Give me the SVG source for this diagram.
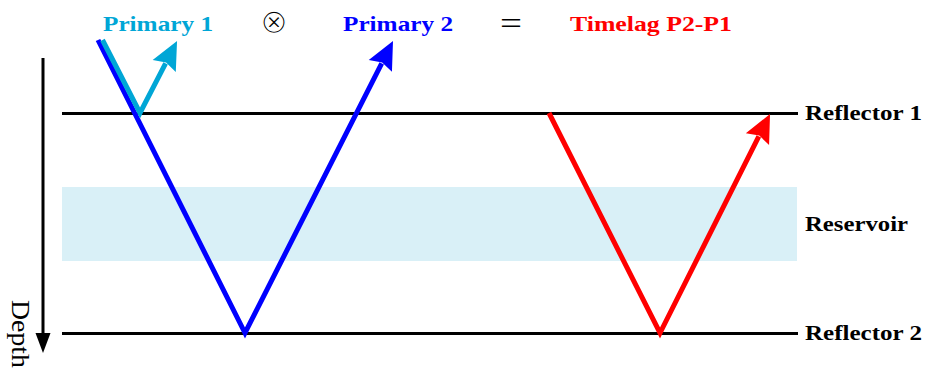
<svg xmlns="http://www.w3.org/2000/svg" width="927" height="370" viewBox="0 0 927 370">
<style>
.lbl{font-family:"Liberation Serif","Times New Roman",serif;font-weight:bold;font-size:22px}
.blk{fill:#000}
.ref{stroke:#000;stroke-width:3;fill:none}
.ray{fill:none;stroke-width:5;stroke-linejoin:miter;stroke-miterlimit:10}
</style>
<defs>
<marker id="ahBlue" markerUnits="userSpaceOnUse" orient="auto" refX="0" refY="0" markerWidth="40" markerHeight="40" overflow="visible"><path d="M25,0 L-3,-13 L1,0 L-3,13 Z" fill="#0000ff"/></marker>
<marker id="ahCyan" markerUnits="userSpaceOnUse" orient="auto" refX="0" refY="0" markerWidth="40" markerHeight="40" overflow="visible"><path d="M25,0 L-3,-13 L1,0 L-3,13 Z" fill="#00a6d6"/></marker>
<marker id="ahRed" markerUnits="userSpaceOnUse" orient="auto" refX="0" refY="0" markerWidth="40" markerHeight="40" overflow="visible"><path d="M25,0 L-3,-13 L1,0 L-3,13 Z" fill="#ff0000"/></marker>
<marker id="ahBlack" markerUnits="userSpaceOnUse" orient="auto" refX="0" refY="0" markerWidth="40" markerHeight="40" overflow="visible"><path d="M20,0 L0,-7.5 L0,7.5 Z" fill="#000"/></marker>
</defs>
<g id="reservoir">
<rect x="62" y="187" width="735" height="74" fill="#d9f0f7"/>
<text class="lbl blk" x="805" y="231" textLength="103" lengthAdjust="spacingAndGlyphs">Reservoir</text>
</g>
<g id="reflector1">
<line class="ref" x1="62" y1="113.5" x2="798" y2="113.5"/>
<text class="lbl blk" x="805" y="120" textLength="117" lengthAdjust="spacingAndGlyphs">Reflector 1</text>
</g>
<g id="reflector2">
<line class="ref" x1="62" y1="333.5" x2="798" y2="333.5"/>
<text class="lbl blk" x="805" y="340" textLength="117" lengthAdjust="spacingAndGlyphs">Reflector 2</text>
</g>
<g id="depth">
<line x1="43" y1="58" x2="43" y2="333" stroke="#000" stroke-width="3" marker-end="url(#ahBlack)"/>
<text transform="translate(12,300) rotate(90)" x="0" y="0" font-family="Liberation Serif, Times New Roman, serif" font-size="25" fill="#000" textLength="68" lengthAdjust="spacingAndGlyphs">Depth</text>
</g>
<g id="titles">
<text class="lbl" x="103" y="31" fill="#00a6d6" textLength="110" lengthAdjust="spacingAndGlyphs">Primary 1</text>
<text x="274" y="33" font-family="DejaVu Sans, sans-serif" font-size="34" text-anchor="middle" fill="#000" stroke="#fff" stroke-width="1.3">⊗</text>
<text class="lbl" x="343" y="31" fill="#0000ff" textLength="110" lengthAdjust="spacingAndGlyphs">Primary 2</text>
<text x="511" y="34" font-family="Liberation Serif, serif" font-size="32" text-anchor="middle" fill="#000" textLength="22" lengthAdjust="spacingAndGlyphs">=</text>
<text class="lbl" x="570" y="31" fill="#ff0000" textLength="162" lengthAdjust="spacingAndGlyphs">Timelag P2-P1</text>
</g>
<g id="connectors">
<polyline class="ray" stroke="#0000ff" points="98,40 245,333 381.7,63.3" marker-end="url(#ahBlue)"/>
<polyline class="ray" stroke="#00a6d6" points="102.5,40 140,113 165.6,63.3" marker-end="url(#ahCyan)"/>
<polyline class="ray" stroke="#ff0000" points="549,113 660,333 758.8,136.4" marker-end="url(#ahRed)"/>
</g>
</svg>
